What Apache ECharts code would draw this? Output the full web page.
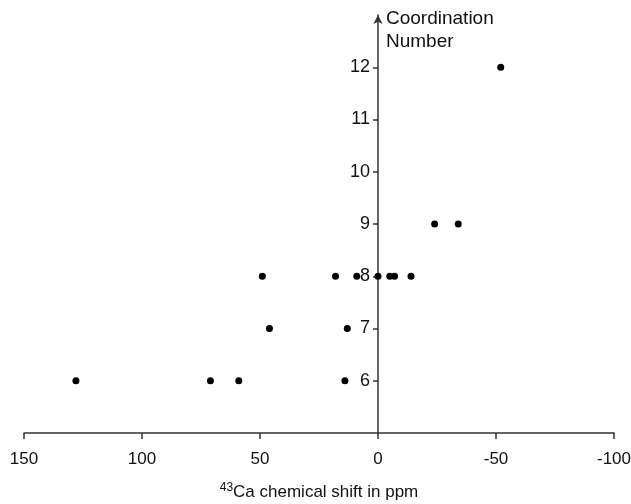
<!DOCTYPE html>
<html>
<head>
<meta charset="utf-8">
<script src="https://cdn.jsdelivr.net/npm/echarts@6/dist/echarts.min.js"></script>
<style>
  html, body { margin: 0; padding: 0; background: #fff; }
  #chart { width: 631px; height: 504px; }
</style>
</head>
<body>
<div id="chart"></div>
<script>
// 43Ca chemical shift (ppm) vs coordination number
const shifts = [128, 71, 59, 14, 46, 13, 49, 18, 9, 0, -5, -7, -14, -24, -34, -52];
const coordination = [6, 6, 6, 6, 7, 7, 8, 8, 8, 8, 8, 8, 8, 9, 9, 12];
const yTicks = [6, 7, 8, 9, 10, 11, 12];

const chartDom = document.getElementById('chart');
const myChart = echarts.init(chartDom);

const points = shifts.map((s, i) => [s, coordination[i]]);

// grid is 590px wide, x=0 sits 150/250 of the way from the left
const gridLeft = 24, gridRight = 17;
const zeroOffset = (631 - gridLeft - gridRight) * 150 / 250;

const option = {
  animation: false,
  grid: { left: gridLeft, right: gridRight, top: 15, bottom: 71, outerBoundsMode: 'none', containLabel: false },
  xAxis: {
    type: 'value',
    inverse: true,
    min: -100,
    max: 150,
    interval: 50,
    splitLine: { show: false },
    axisLine: { onZero: false, lineStyle: { color: '#333', width: 1.5 } },
    axisTick: { length: 6, lineStyle: { color: '#333', width: 1.5 } },
    axisLabel: { color: '#111', fontSize: 17, fontFamily: 'Liberation Sans', margin: 18 },
    name: '{sup|43}{n|Ca chemical shift in ppm}',
    nameLocation: 'middle',
    nameGap: 49,
    nameTextStyle: {
      rich: {
        sup: { fontSize: 12, verticalAlign: 'top', color: '#111', fontFamily: 'Liberation Sans', padding: [0, 0, 8, 0] },
        n: { fontSize: 17, color: '#111', fontFamily: 'Liberation Sans' }
      }
    }
  },
  yAxis: {
    type: 'value',
    min: 5,
    max: 13,
    interval: 1,
    offset: -zeroOffset,
    splitLine: { show: false },
    axisLine: {
      onZero: false,
      symbol: ['none', 'arrow'],
      symbolSize: [7, 9],
      lineStyle: { color: '#333', width: 1.5 }
    },
    axisTick: { length: 5, customValues: yTicks, lineStyle: { color: '#333', width: 1.5 } },
    axisLabel: { customValues: yTicks, color: '#111', fontSize: 18, fontFamily: 'Liberation Sans', margin: 8 },
    name: 'Coordination\nNumber',
    nameLocation: 'end',
    nameGap: 0,
    nameTextStyle: {
      color: '#111', fontSize: 19, fontFamily: 'Liberation Sans',
      align: 'left', verticalAlign: 'top', lineHeight: 23, padding: [-8, 0, 0, 8]
    }
  },
  series: [{
    type: 'scatter',
    data: points,
    symbol: 'circle',
    symbolSize: 7,
    itemStyle: { color: '#000', opacity: 1 }
  }]
};

option && myChart.setOption(option);
</script>
</body>
</html>
